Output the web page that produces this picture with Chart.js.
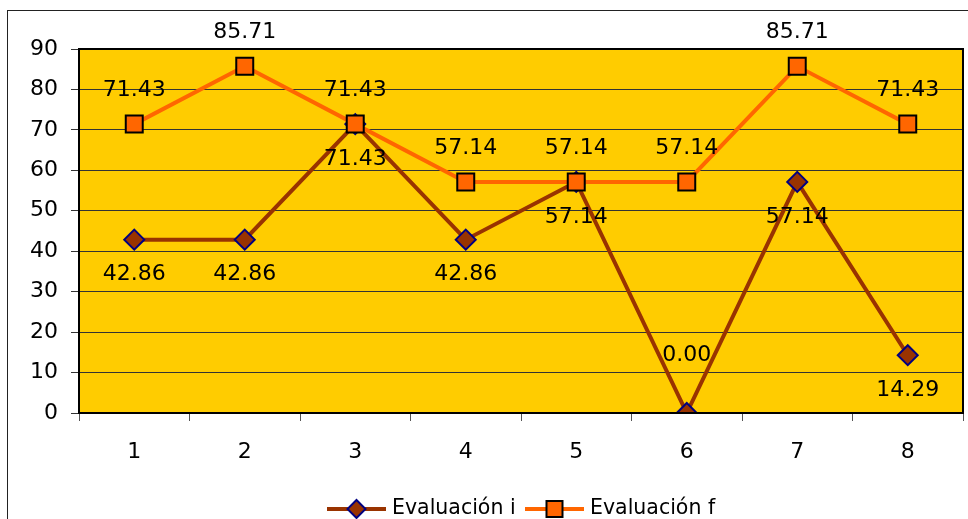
<!DOCTYPE html>
<html>
<head>
<meta charset="utf-8">
<script src="https://cdn.jsdelivr.net/npm/chart.js@4"></script>
<style>
  html, body { margin: 0; padding: 0; background: #fff; overflow: hidden; }
  canvas { display: block; }
</style>
</head>
<body>
<canvas id="evalChart" width="968" height="519"></canvas>
<script>
// evaluation scores per student
const categories = ["1", "2", "3", "4", "5", "6", "7", "8"];
const evalInicial = [42.86, 42.86, 71.43, 42.86, 57.14, 0.00, 57.14, 14.29];
const evalFinal = [71.43, 85.71, 71.43, 57.14, 57.14, 57.14, 85.71, 71.43];
const yTicks = [0, 10, 20, 30, 40, 50, 60, 70, 80, 90];

const FONT = "DejaVu Sans, Verdana, sans-serif";

// yellow plot background + frame + outer border
const framePlugin = {
  id: "frame",
  beforeDraw(chart) {
    const { ctx, chartArea: a } = chart;
    ctx.save();
    ctx.fillStyle = "#FFCC00";
    ctx.fillRect(a.left, a.top, a.right - a.left, a.bottom - a.top);
    ctx.restore();
  },
  afterDraw(chart) {
    const { ctx, chartArea: a } = chart;
    ctx.save();
    ctx.strokeStyle = "#000";
    ctx.lineWidth = 2;
    ctx.strokeRect(a.left, a.top, a.right - a.left, a.bottom - a.top);
    ctx.lineWidth = 1;
    ctx.strokeStyle = "#222";
    ctx.strokeRect(7.5, 10.5, 1000, 600);
    ctx.restore();
  }
};

// value labels: final above, initial below (flipped up when it would leave the plot)
const labelPlugin = {
  id: "valueLabels",
  afterDatasetsDraw(chart) {
    const { ctx, chartArea: a } = chart;
    ctx.save();
    ctx.font = "22px " + FONT;
    ctx.fillStyle = "#000";
    ctx.textAlign = "center";
    ctx.textBaseline = "middle";
    chart.data.datasets.forEach((ds, di) => {
      const meta = chart.getDatasetMeta(di);
      meta.data.forEach((pt, i) => {
        const txt = ds.data[i].toFixed(2);
        let y;
        if (ds.labelSide === "above") {
          y = pt.y - 34;
        } else {
          y = pt.y + 35;
          if (y + 10 > a.bottom) y = pt.y - 58;
        }
        ctx.fillText(txt, pt.x, y);
      });
    });
    ctx.restore();
  }
};

// legend with line + marker, drawn under the axis
const legendPlugin = {
  id: "lineLegend",
  afterDraw(chart) {
    const { ctx } = chart;
    const y = 509;
    const items = [
      { x: 327, ds: chart.data.datasets[0] },
      { x: 525, ds: chart.data.datasets[1] }
    ];
    ctx.save();
    items.forEach(it => {
      const ds = it.ds;
      ctx.strokeStyle = ds.borderColor;
      ctx.lineWidth = 4;
      ctx.beginPath();
      ctx.moveTo(it.x, y);
      ctx.lineTo(it.x + 59, y);
      ctx.stroke();
      const cx = it.x + 29.5;
      ctx.fillStyle = ds.pointBackgroundColor;
      ctx.strokeStyle = ds.pointBorderColor;
      ctx.lineWidth = 2;
      ctx.beginPath();
      if (ds.pointStyle === "rectRot") {
        ctx.moveTo(cx, y - 9);
        ctx.lineTo(cx + 9, y);
        ctx.lineTo(cx, y + 9);
        ctx.lineTo(cx - 9, y);
        ctx.closePath();
      } else {
        ctx.rect(cx - 8, y - 8, 16, 16);
      }
      ctx.fill();
      ctx.stroke();
      ctx.fillStyle = "#000";
      ctx.font = "20.5px " + FONT;
      ctx.textAlign = "left";
      ctx.textBaseline = "middle";
      ctx.fillText(ds.label, it.x + 65, y);
    });
    ctx.restore();
  }
};

const ctx = document.getElementById("evalChart").getContext("2d");
const evalChart = new Chart(ctx, {
  type: "line",
  data: {
    labels: categories,
    datasets: [
      {
        label: "Evaluación i",
        data: evalInicial,
        borderColor: "#993300",
        borderWidth: 4,
        pointStyle: "rectRot",
        pointRadius: 10,
        pointBackgroundColor: "#993300",
        pointBorderColor: "#000080",
        pointBorderWidth: 2,
        labelSide: "below",
        order: 2
      },
      {
        label: "Evaluación f",
        data: evalFinal,
        borderColor: "#FF6600",
        borderWidth: 4,
        pointStyle: "rect",
        pointRadius: 12,
        pointBackgroundColor: "#FF6600",
        pointBorderColor: "#000",
        pointBorderWidth: 2,
        labelSide: "above",
        order: 1
      }
    ]
  },
  options: {
    responsive: false,
    animation: false,
    layout: { autoPadding: false, padding: { top: 49, right: 5, left: 0, bottom: 0 } },
    plugins: { legend: { display: false }, tooltip: { enabled: false } },
    scales: {
      x: {
        offset: true,
        grid: { offset: true, drawOnChartArea: false, drawTicks: true, tickLength: 8, color: "#555" },
        border: { display: false },
        ticks: { color: "#000", font: { family: FONT, size: 22 }, padding: 18 },
        afterFit(scale) {
          scale.height = 106;
          scale.paddingLeft = 0;
          scale.paddingRight = 0;
        }
      },
      y: {
        min: 0,
        max: 90,
        afterBuildTicks(scale) { scale.ticks = yTicks.map(v => ({ value: v })); },
        grid: { color: "#333", lineWidth: 1, tickLength: 8 },
        border: { display: false },
        ticks: { color: "#000", font: { family: FONT, size: 22 }, padding: 13 },
        afterFit(scale) { scale.width = 79; }
      }
    }
  },
  plugins: [framePlugin, labelPlugin, legendPlugin]
});
</script>
</body>
</html>
